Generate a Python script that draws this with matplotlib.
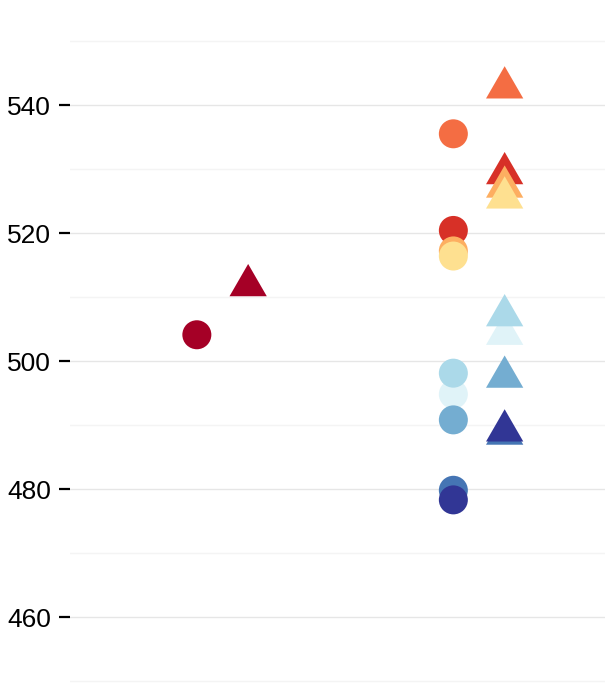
import matplotlib
matplotlib.use("Agg")
import matplotlib.pyplot as plt
from matplotlib.path import Path
import numpy as np

# ---- data ----
categories = ["Group A", "Group B"]
series_names = ["S1", "S2", "S3", "S4", "S5", "S6", "S7", "S8", "S9", "S10"]
series_colors = ["#a50026", "#d73027", "#f46d43", "#fdae61", "#fee090",
                 "#e0f3f8", "#abd9e9", "#74add1", "#4575b4", "#313695"]
series_category = [0, 1, 1, 1, 1, 1, 1, 1, 1, 1]
circle_values = [504.1, 520.4, 535.5, 517.2, 516.4, 494.8, 498.1, 490.8, 479.8, 478.3]
triangle_values = [511.8, 529.3, 542.7, 527.2, 525.5, 504.2, 507.1, 497.5, 488.6, 489.1]
y_ticks = [460, 480, 500, 520, 540]
y_minor = [450, 470, 490, 510, 530, 550]

# ---- figure ----
W, H, DPI = 605, 697, 100
fig = plt.figure(figsize=(W / DPI, H / DPI), dpi=DPI)
fig.patch.set_facecolor("white")
ax = fig.add_axes([70 / W, 0, 535 / W, 1])
ax.set_facecolor("white")

# centroid-centred equilateral triangle (like R pch 17)
tri = Path([(0, 1), (-np.sqrt(3) / 2, -0.5), (np.sqrt(3) / 2, -0.5), (0, 1)],
           [Path.MOVETO, Path.LINETO, Path.LINETO, Path.CLOSEPOLY])

dodge = 0.1
for name, col, cat, cv, tv in zip(series_names, series_colors, series_category,
                                  circle_values, triangle_values):
    ax.scatter([cat - dodge], [cv], s=436, marker="o", color=col,
               edgecolors="none", zorder=3)
    ax.scatter([cat + dodge], [tv], s=961, marker=tri, color=col,
               edgecolors="none", zorder=3)

# axis limits: 540 at y=105 px, 6.4 px per unit
top = 540 + 105 / 6.4
bottom = 540 - (H - 105) / 6.4
ax.set_ylim(bottom, top)
ax.set_xlim(-(222.5 - 70) / 256.5, 1 + (605 - 479) / 256.5)

ax.set_yticks(y_ticks)
ax.set_yticks(y_minor, minor=True)
ax.set_xticks([])
ax.grid(axis="y", which="major", color="#e6e6e6", linewidth=1.0, zorder=0)
ax.grid(axis="y", which="minor", color="#f4f4f4", linewidth=1.0, zorder=0)
ax.tick_params(axis="y", which="major", length=8, width=1.6, color="black",
               pad=5.5, labelsize=19)
ax.tick_params(axis="y", which="minor", length=0)
for lab in ax.get_yticklabels():
    lab.set_fontfamily("Liberation Sans")
for s in ax.spines.values():
    s.set_visible(False)

fig.savefig("out.png", dpi=DPI, facecolor="white")
